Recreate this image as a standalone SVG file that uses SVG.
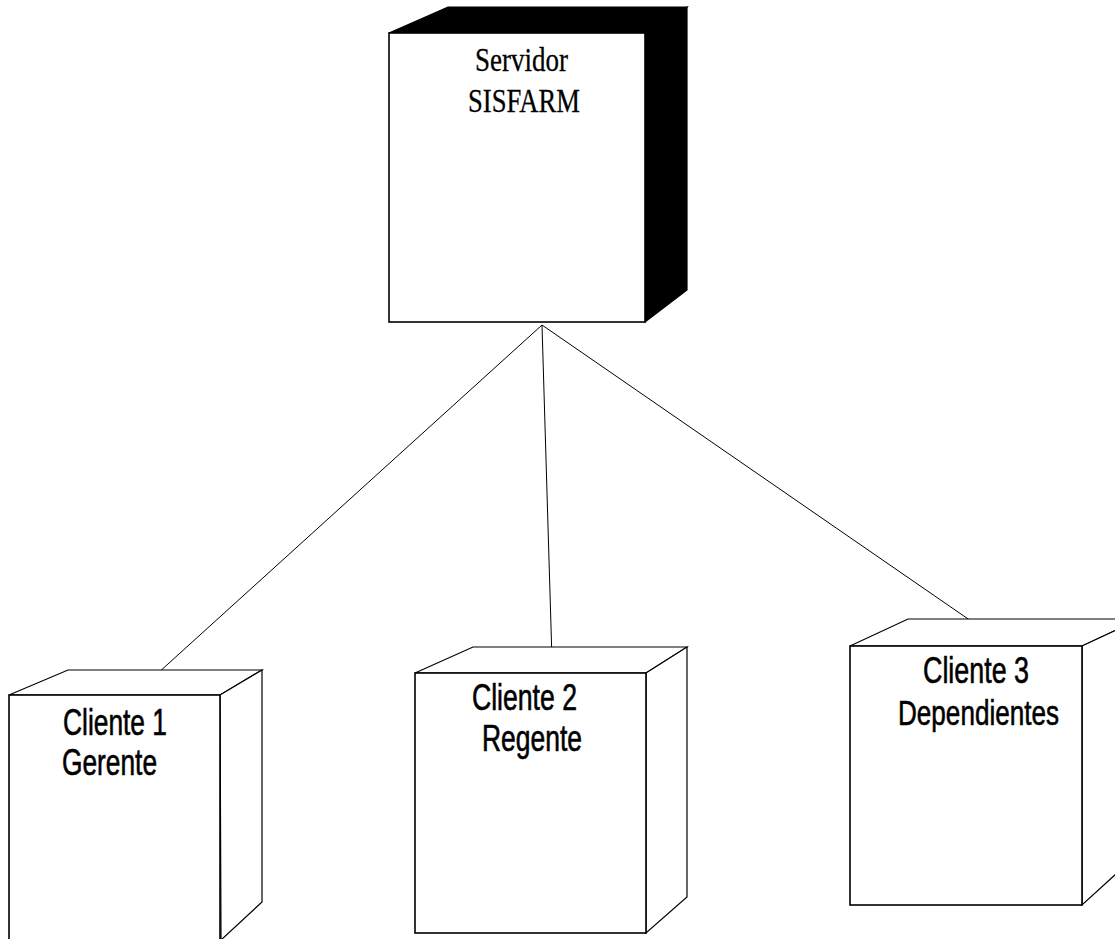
<svg xmlns="http://www.w3.org/2000/svg" width="1115" height="939" viewBox="0 0 1115 939">
<style>
.face{fill:#fff;stroke:#000;stroke-width:1.6;stroke-linejoin:miter}
.side{fill:#fff;stroke:#000;stroke-width:1.2}
.dark{fill:#000;stroke:#000;stroke-width:1.2}
.conn{stroke:#000;stroke-width:1;fill:none}
.srv{font-family:"Liberation Serif","Times New Roman",serif;font-size:34px;fill:#000;stroke:#000;stroke-width:0.3}
.cli{font-family:"Liberation Sans",Arial,sans-serif;font-size:36px;fill:#000;stroke:#000;stroke-width:0.6}
</style>
<rect width="1115" height="939" fill="#fff"/>
<g id="connectors">
<line class="conn" x1="542" y1="325" x2="147" y2="683"/>
<line class="conn" x1="542" y1="325" x2="552" y2="660"/>
<line class="conn" x1="542" y1="325" x2="987" y2="632"/>
</g>
<g id="servidor">
<polygon class="dark" points="389,33 448,7 687,7 645,33"/>
<polygon class="dark" points="645,33 687,7 687,290 645,322"/>
<rect class="face" x="389" y="33" width="256" height="289"/>
<text class="srv" x="475" y="71" textLength="93" lengthAdjust="spacingAndGlyphs">Servidor</text>
<text class="srv" x="468" y="112" textLength="112" lengthAdjust="spacingAndGlyphs">SISFARM</text>
</g>
<g id="cliente1">
<polygon class="side" points="9,695 68,670 262,670 220,695"/>
<polygon class="side" points="220,695 262,670 262,902 221,940"/>
<rect class="face" x="9" y="695" width="211" height="250"/>
<text class="cli" x="63" y="735" textLength="104" lengthAdjust="spacingAndGlyphs">Cliente 1</text>
<text class="cli" x="62" y="775" textLength="95" lengthAdjust="spacingAndGlyphs">Gerente</text>
</g>
<g id="cliente2">
<polygon class="side" points="415,673 473,647 687,647 646,673"/>
<polygon class="side" points="646,673 687,647 687,897 646,933"/>
<rect class="face" x="415" y="673" width="231" height="260"/>
<text class="cli" x="472" y="710" textLength="105" lengthAdjust="spacingAndGlyphs">Cliente 2</text>
<text class="cli" x="482" y="751" textLength="100" lengthAdjust="spacingAndGlyphs">Regente</text>
</g>
<g id="cliente3">
<polygon class="side" points="850,646 908,619 1140,619 1082,646"/>
<polygon class="side" points="1082,646 1140,619 1140,852 1082,905"/>
<rect class="face" x="850" y="646" width="232" height="259"/>
<text class="cli" x="923" y="683" textLength="106" lengthAdjust="spacingAndGlyphs">Cliente 3</text>
<text class="cli" transform="translate(898,725) scale(0.725,1)" x="0" y="0">Dependientes</text>
</g>
</svg>
